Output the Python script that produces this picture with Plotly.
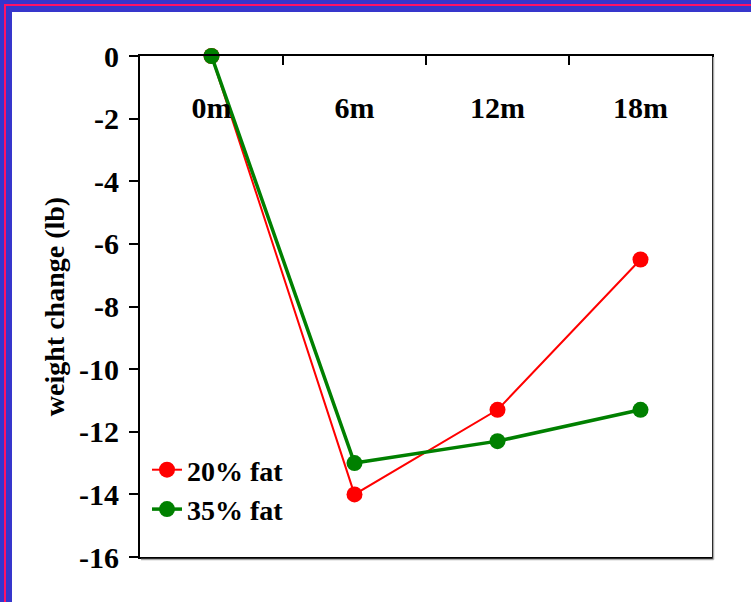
import plotly.graph_objects as go

# Weight change over time for two diet groups
months = ["0m", "6m", "12m", "18m"]
fat20 = [0, -14.0, -11.3, -6.5]
fat35 = [0, -13.0, -12.3, -11.3]
y_ticks = [0, -2, -4, -6, -8, -10, -12, -14, -16]

W, H = 751, 602
ML, MR, MT, MB = 140, 39, 56, 45
PW, PH = W - ML - MR, H - MT - MB


def px_x(px):
    return (px - ML) / PW


def px_y(py):
    return (H - MB - py) / PH


FONT = "Liberation Serif, Times New Roman, serif"
TICKFONT = dict(family=FONT, size=30, color="black", weight="bold")

fig = go.Figure()
fig.add_trace(go.Scatter(
    x=months, y=fat20, name="20% fat", mode="lines+markers",
    line=dict(color="#ff0000", width=2),
    marker=dict(color="#ff0000", size=16),
    cliponaxis=False, xaxis="x", yaxis="y",
))
# second series sits on an overlaid x axis that carries the month labels
fig.add_trace(go.Scatter(
    x=months, y=fat35, name="35% fat", mode="lines+markers",
    line=dict(color="#008000", width=3.5),
    marker=dict(color="#008000", size=16),
    cliponaxis=False, xaxis="x2", yaxis="y",
))

shapes = []
# window frame: blue band with a thin pink rule on the top and left edges
blue = "#3636cc"
pink = "#ff1166"
shapes.append(dict(type="rect", xref="paper", yref="paper",
                   x0=px_x(0), x1=px_x(W + 5), y0=px_y(12), y1=px_y(-5),
                   fillcolor=blue, line_width=0))
shapes.append(dict(type="rect", xref="paper", yref="paper",
                   x0=px_x(-5), x1=px_x(12), y0=px_y(H + 5), y1=px_y(0),
                   fillcolor=blue, line_width=0))
shapes.append(dict(type="rect", xref="paper", yref="paper",
                   x0=px_x(4), x1=px_x(W + 5), y0=px_y(6), y1=px_y(4),
                   fillcolor=pink, line_width=0))
shapes.append(dict(type="rect", xref="paper", yref="paper",
                   x0=px_x(4), x1=px_x(6), y0=px_y(H + 5), y1=px_y(4),
                   fillcolor=pink, line_width=0))
# soft shadow along the right and bottom of the plot box
shapes.append(dict(type="line", xref="paper", yref="paper",
                   x0=px_x(713.5), x1=px_x(713.5), y0=px_y(559.5), y1=px_y(57),
                   line=dict(color="#aaaaaa", width=1.5)))
shapes.append(dict(type="line", xref="paper", yref="paper",
                   x0=px_x(141), x1=px_x(713.5), y0=px_y(559.5), y1=px_y(559.5),
                   line=dict(color="#aaaaaa", width=1.5)))

fig.update_layout(
    width=W, height=H, autosize=False,
    margin=dict(l=ML, r=MR, t=MT, b=MB, pad=0),
    paper_bgcolor="white", plot_bgcolor="white",
    font=dict(family=FONT, size=28, color="black"),
    shapes=shapes,
    showlegend=True,
    legend=dict(
        x=px_x(147), y=px_y(445), xanchor="left", yanchor="top",
        bgcolor="rgba(0,0,0,0)", borderwidth=0,
        font=dict(family=FONT, size=28, color="black", weight="bold"),
        tracegroupgap=0, itemwidth=30,
    ),
    xaxis=dict(
        type="category", categoryorder="array", categoryarray=months,
        side="top", tickson="boundaries", ticks="inside", ticklen=9,
        tickwidth=1.5, tickcolor="black", showticklabels=False,
        showline=True, linecolor="black", linewidth=2, mirror=True,
        showgrid=False, zeroline=False, automargin=False,
        range=[-0.5, 3.5],
    ),
    xaxis2=dict(
        type="category", categoryorder="array", categoryarray=months,
        overlaying="x", matches="x", anchor="free", position=px_y(124),
        side="top", ticks="", showline=False, showgrid=False,
        zeroline=False, automargin=False,
        tickfont=TICKFONT,
    ),
    yaxis=dict(
        range=[-16, 0], tickvals=y_ticks, ticktext=[str(v) for v in y_ticks],
        ticks="outside", ticklen=9, tickwidth=1.5, tickcolor="black",
        ticklabelstandoff=4,
        tickfont=TICKFONT,
        showline=True, linecolor="black", linewidth=2, mirror=True,
        showgrid=False, zeroline=False, automargin=False,
        title=dict(text="weight change (lb)", standoff=6,
                   font=dict(family=FONT, size=28, color="black", weight="bold")),
    ),
)

fig.write_html("out.html")
